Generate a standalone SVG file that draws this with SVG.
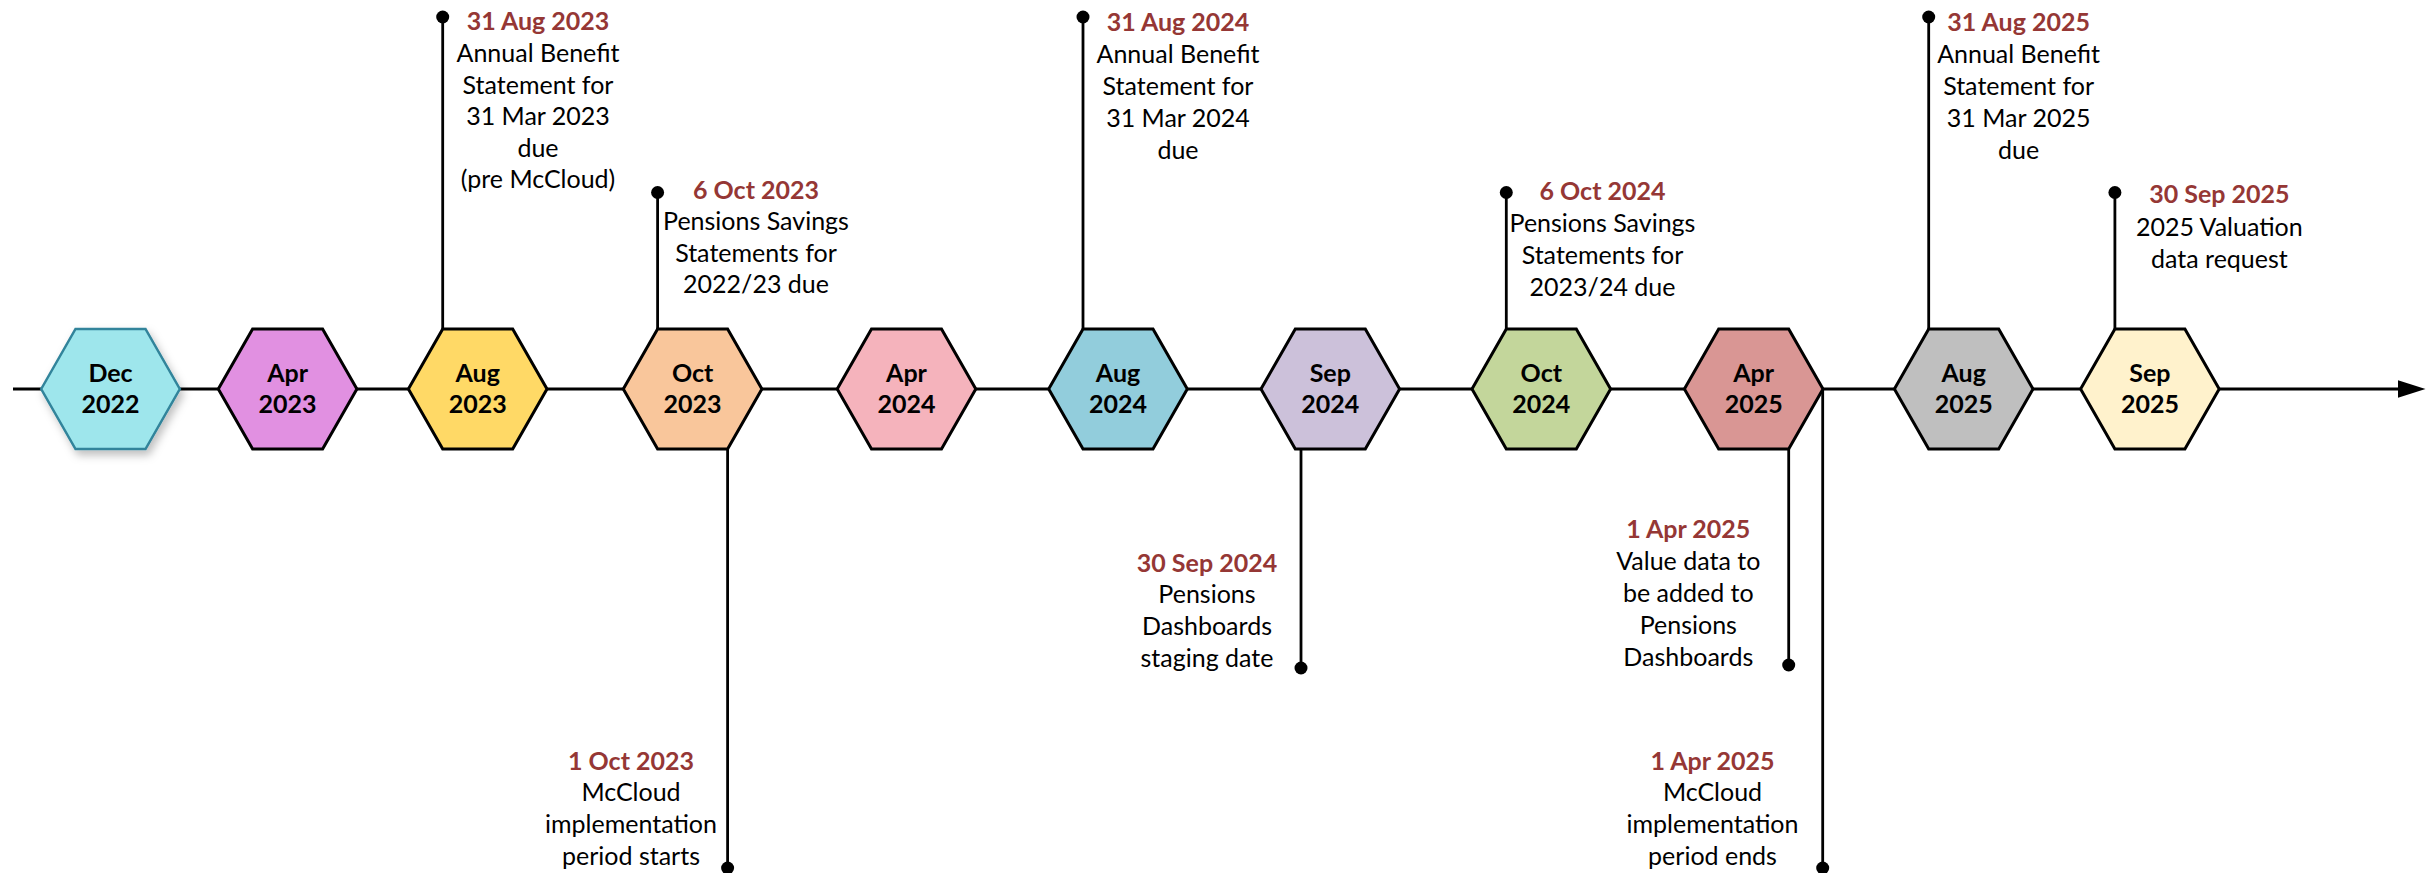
<svg xmlns="http://www.w3.org/2000/svg" width="2431" height="873" viewBox="0 0 2431 873">
<defs>
<style>
.hex{stroke:#000;stroke-width:3;stroke-linejoin:miter}
.hl{font-family:Lato,"Open Sans",sans-serif;font-weight:bold;font-size:25px;fill:#000;text-anchor:middle}
.t{font-family:Lato,"Open Sans",sans-serif;font-size:25px;fill:#000;text-anchor:middle}
.d{font-weight:bold;fill:#953735}
.ln{stroke:#000;stroke-width:2.8;fill:none}
.dot{fill:#000}
</style>
<filter id="sh" x="-20%" y="-20%" width="150%" height="150%">
<feDropShadow dx="3" dy="5" stdDeviation="4" flood-color="#000" flood-opacity="0.25"/>
</filter>
<marker id="arr" markerWidth="10" markerHeight="7" refX="10" refY="3.5" orient="auto" markerUnits="userSpaceOnUse" viewBox="0 0 10 7">
<path d="M0,0 L10,3.5 L0,7 z" fill="#000"/>
</marker>
<polygon id="hx" points="-69.3,0 -35,-60 35,-60 69.3,0 35,60 -35,60"/>
</defs>
<g id="connectors">
<line class="ln" x1="13" y1="389" x2="2400" y2="389"/>
<path d="M2398,380.3 L2425.5,389 L2398,397.7 z" fill="#000"/>
<line class="ln" x1="442.7" y1="329" x2="442.7" y2="17"/><circle class="dot" cx="442.7" cy="17" r="6.5"/>
<line class="ln" x1="657.6" y1="329" x2="657.6" y2="192.5"/><circle class="dot" cx="657.6" cy="192.5" r="6.5"/>
<line class="ln" x1="727.6" y1="449" x2="727.6" y2="868"/><circle class="dot" cx="727.6" cy="868" r="6.5"/>
<line class="ln" x1="1083" y1="329" x2="1083" y2="17"/><circle class="dot" cx="1083" cy="17" r="6.5"/>
<line class="ln" x1="1301" y1="449" x2="1301" y2="668"/><circle class="dot" cx="1301" cy="668" r="6.5"/>
<line class="ln" x1="1506.3" y1="329" x2="1506.3" y2="192.5"/><circle class="dot" cx="1506.3" cy="192.5" r="6.5"/>
<line class="ln" x1="1788.7" y1="449" x2="1788.7" y2="665"/><circle class="dot" cx="1788.7" cy="665" r="6.5"/>
<line class="ln" x1="1822.7" y1="389" x2="1822.7" y2="868"/><circle class="dot" cx="1822.7" cy="868" r="6.5"/>
<line class="ln" x1="1928.7" y1="329" x2="1928.7" y2="17"/><circle class="dot" cx="1928.7" cy="17" r="6.5"/>
<line class="ln" x1="2114.9" y1="329" x2="2114.9" y2="192.5"/><circle class="dot" cx="2114.9" cy="192.5" r="6.5"/>
</g>
<g id="n-dec2022" transform="translate(110.5,389)">
<use href="#hx" fill="#9ee6ec" stroke="#31849b" stroke-width="2.5" filter="url(#sh)"/>
<text class="hl" x="0" y="-7.3">Dec</text><text class="hl" x="0" y="24.3">2022</text>
</g>
<g id="n-apr2023" transform="translate(287.6,389)">
<use href="#hx" class="hex" fill="#e190e1"/>
<text class="hl" x="0" y="-7.3">Apr</text><text class="hl" x="0" y="24.3">2023</text>
</g>
<g id="n-aug2023" transform="translate(477.7,389)">
<use href="#hx" class="hex" fill="#ffd966"/>
<text class="hl" x="0" y="-7.3">Aug</text><text class="hl" x="0" y="24.3">2023</text>
</g>
<g id="n-oct2023" transform="translate(692.6,389)">
<use href="#hx" class="hex" fill="#f9c69b"/>
<text class="hl" x="0" y="-7.3">Oct</text><text class="hl" x="0" y="24.3">2023</text>
</g>
<g id="n-apr2024" transform="translate(906.5,389)">
<use href="#hx" class="hex" fill="#f5b3bc"/>
<text class="hl" x="0" y="-7.3">Apr</text><text class="hl" x="0" y="24.3">2024</text>
</g>
<g id="n-aug2024" transform="translate(1118,389)">
<use href="#hx" class="hex" fill="#92cddc"/>
<text class="hl" x="0" y="-7.3">Aug</text><text class="hl" x="0" y="24.3">2024</text>
</g>
<g id="n-sep2024" transform="translate(1330.3,389)">
<use href="#hx" class="hex" fill="#ccc1da"/>
<text class="hl" x="0" y="-7.3">Sep</text><text class="hl" x="0" y="24.3">2024</text>
</g>
<g id="n-oct2024" transform="translate(1541.3,389)">
<use href="#hx" class="hex" fill="#c3d69b"/>
<text class="hl" x="0" y="-7.3">Oct</text><text class="hl" x="0" y="24.3">2024</text>
</g>
<g id="n-apr2025" transform="translate(1753.7,389)">
<use href="#hx" class="hex" fill="#d99694"/>
<text class="hl" x="0" y="-7.3">Apr</text><text class="hl" x="0" y="24.3">2025</text>
</g>
<g id="n-aug2025" transform="translate(1963.7,389)">
<use href="#hx" class="hex" fill="#bfbfbf"/>
<text class="hl" x="0" y="-7.3">Aug</text><text class="hl" x="0" y="24.3">2025</text>
</g>
<g id="n-sep2025" transform="translate(2149.9,389)">
<use href="#hx" class="hex" fill="#fff2cc"/>
<text class="hl" x="0" y="-7.3">Sep</text><text class="hl" x="0" y="24.3">2025</text>
</g>
<g id="l-31aug2023">
<text class="t d" x="538" y="30">31 Aug 2023</text>
<text class="t" x="538" y="62">Annual Benefit</text>
<text class="t" x="538" y="93.5">Statement for</text>
<text class="t" x="538" y="125">31 Mar 2023</text>
<text class="t" x="538" y="156.5">due</text>
<text class="t" x="538" y="188">(pre McCloud)</text>
</g>
<g id="l-6oct2023">
<text class="t d" x="756" y="198.5">6 Oct 2023</text>
<text class="t" x="756" y="230">Pensions Savings</text>
<text class="t" x="756" y="261.5">Statements for</text>
<text class="t" x="756" y="293">2022/23 due</text>
</g>
<g id="l-1oct2023">
<text class="t d" x="631" y="770">1 Oct 2023</text>
<text class="t" x="631" y="801">McCloud</text>
<text class="t" x="631" y="833">implementation</text>
<text class="t" x="631" y="865">period starts</text>
</g>
<g id="l-31aug2024">
<text class="t d" x="1178" y="31">31 Aug 2024</text>
<text class="t" x="1178" y="63">Annual Benefit</text>
<text class="t" x="1178" y="95">Statement for</text>
<text class="t" x="1178" y="127">31 Mar 2024</text>
<text class="t" x="1178" y="159">due</text>
</g>
<g id="l-30sep2024">
<text class="t d" x="1207" y="571.5">30 Sep 2024</text>
<text class="t" x="1207" y="603">Pensions</text>
<text class="t" x="1207" y="635">Dashboards</text>
<text class="t" x="1207" y="666.5">staging date</text>
</g>
<g id="l-6oct2024">
<text class="t d" x="1602.5" y="200">6 Oct 2024</text>
<text class="t" x="1602.5" y="231.5">Pensions Savings</text>
<text class="t" x="1602.5" y="263.5">Statements for</text>
<text class="t" x="1602.5" y="295.5">2023/24 due</text>
</g>
<g id="l-1apr2025a">
<text class="t d" x="1688.3" y="537.5">1 Apr 2025</text>
<text class="t" x="1688.3" y="569.5">Value data to</text>
<text class="t" x="1688.3" y="601.5">be added to</text>
<text class="t" x="1688.3" y="633.5">Pensions</text>
<text class="t" x="1688.3" y="665.5">Dashboards</text>
</g>
<g id="l-1apr2025b">
<text class="t d" x="1712.5" y="770">1 Apr 2025</text>
<text class="t" x="1712.5" y="801">McCloud</text>
<text class="t" x="1712.5" y="833">implementation</text>
<text class="t" x="1712.5" y="865">period ends</text>
</g>
<g id="l-31aug2025">
<text class="t d" x="2018.6" y="31">31 Aug 2025</text>
<text class="t" x="2018.6" y="63">Annual Benefit</text>
<text class="t" x="2018.6" y="95">Statement for</text>
<text class="t" x="2018.6" y="127">31 Mar 2025</text>
<text class="t" x="2018.6" y="159">due</text>
</g>
<g id="l-30sep2025">
<text class="t d" x="2219.4" y="203">30 Sep 2025</text>
<text class="t" x="2219.4" y="235.5">2025 Valuation</text>
<text class="t" x="2219.4" y="267.5">data request</text>
</g>
</svg>
